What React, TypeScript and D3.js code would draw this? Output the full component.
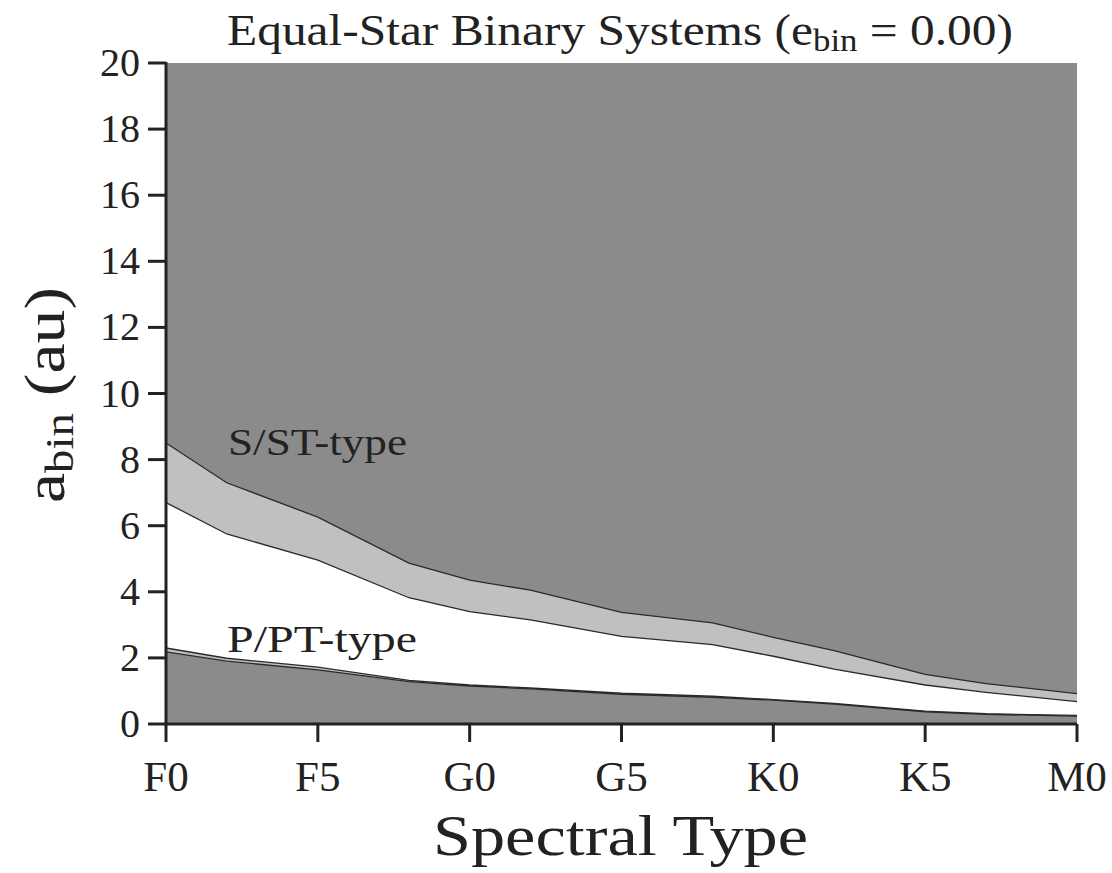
import React from "react";
import * as d3 from "d3";

const spectralTypes = ["F0", "F2", "F5", "F8", "G0", "G2", "G5", "G8", "K0", "K2", "K5", "K7", "M0"];
const subtypeIndex = [0, 2, 5, 8, 10, 12, 15, 18, 20, 22, 25, 27, 30];
const sOuter = [8.5, 7.3, 6.26, 4.87, 4.35, 4.05, 3.38, 3.06, 2.62, 2.22, 1.5, 1.22, 0.92];
const sInner = [6.7, 5.75, 4.96, 3.82, 3.4, 3.15, 2.65, 2.4, 2.05, 1.66, 1.18, 0.96, 0.68];
const pOuter = [2.3, 1.99, 1.72, 1.32, 1.18, 1.09, 0.93, 0.84, 0.74, 0.62, 0.39, 0.31, 0.26];
const pInner = [2.18, 1.9, 1.64, 1.28, 1.15, 1.06, 0.9, 0.81, 0.72, 0.6, 0.37, 0.29, 0.24];
const xTickLabels = ["F0", "F5", "G0", "G5", "K0", "K5", "M0"];
const xTickValues = [0, 5, 10, 15, 20, 25, 30];
const yTickValues = [0, 2, 4, 6, 8, 10, 12, 14, 16, 18, 20];

const DARK = "#8b8b8b";
const LIGHT = "#c0c0c0";
const LINE = "#2a2a2a";
const FONT = "Liberation Serif";

export default function App() {
  const W = 1112, H = 873;
  const left = 166, right = 1077, top = 63, bottom = 724;
  const x = d3.scaleLinear().domain([0, 30]).range([left, right]);
  const y = d3.scaleLinear().domain([0, 20]).range([bottom, top]);

  const rows = spectralTypes.map((t, i) => ({
    t, i: subtypeIndex[i], so: sOuter[i], si: sInner[i], po: pOuter[i], pi: pInner[i],
  }));
  type R = typeof rows[number];
  const area = (lo: (r: R) => number, hi: (r: R) => number) =>
    d3.area<R>().x((r) => x(r.i)).y0((r) => y(lo(r))).y1((r) => y(hi(r)))(rows) || "";
  const line = (f: (r: R) => number) => d3.line<R>().x((r) => x(r.i)).y((r) => y(f(r)))(rows) || "";

  const txt = { fontFamily: FONT, fill: "#222" } as const;

  return (
    <svg width={W} height={H} style={{ position: "absolute", left: 0, top: 0, background: "#fff", fontFamily: FONT }}>
      <rect x={0} y={0} width={W} height={H} fill="#fff" />
      <path d={area(() => 0, (r) => r.pi)} fill={DARK} />
      <path d={area((r) => r.pi, (r) => r.po)} fill={LIGHT} />
      <path d={area((r) => r.si, (r) => r.so)} fill={LIGHT} />
      <path d={area((r) => r.so, () => 20)} fill={DARK} />
      {[(r: R) => r.pi, (r: R) => r.po, (r: R) => r.si, (r: R) => r.so].map((f, k) => (
        <path key={k} d={line(f)} fill="none" stroke={LINE} strokeWidth={1.3} />
      ))}

      <text x={228} y={455} style={txt} fontSize={38} textLength={179} lengthAdjust="spacingAndGlyphs">S/ST-type</text>
      <text x={227} y={652} style={txt} fontSize={38} textLength={190} lengthAdjust="spacingAndGlyphs">P/PT-type</text>

      <line x1={left} x2={left} y1={top - 1} y2={bottom + 1.5} stroke="#222" strokeWidth={3} />
      <line x1={left} x2={right} y1={bottom} y2={bottom} stroke="#222" strokeWidth={3} />
      {yTickValues.map((v) => (
        <g key={v}>
          <line x1={left - 18} x2={left} y1={y(v)} y2={y(v)} stroke="#222" strokeWidth={3} />
          <text x={left - 26} y={y(v) + 13} textAnchor="end" style={txt} fontSize={40}>{v}</text>
        </g>
      ))}
      {xTickValues.map((v, i) => (
        <g key={v}>
          <line x1={x(v)} x2={x(v)} y1={bottom} y2={bottom + 18} stroke="#222" strokeWidth={3} />
          <text x={x(v)} y={791} textAnchor="middle" style={txt} fontSize={43}>{xTickLabels[i]}</text>
        </g>
      ))}

      <text x={433} y={855} style={txt} fontSize={58} textLength={375} lengthAdjust="spacingAndGlyphs">Spectral Type</text>

      <text transform={`translate(64, 503) rotate(-90)`} style={txt} fontSize={58} textLength={216} lengthAdjust="spacingAndGlyphs">
        a<tspan fontSize={40} dy={9}>bin</tspan><tspan dy={-9}> (au)</tspan>
      </text>

      <text x={227} y={45} style={txt} fontSize={44} textLength={786} lengthAdjust="spacingAndGlyphs">
        Equal-Star Binary Systems (e<tspan fontSize={31} dy={6}>bin</tspan><tspan dy={-6}> = 0.00)</tspan>
      </text>
    </svg>
  );
}
